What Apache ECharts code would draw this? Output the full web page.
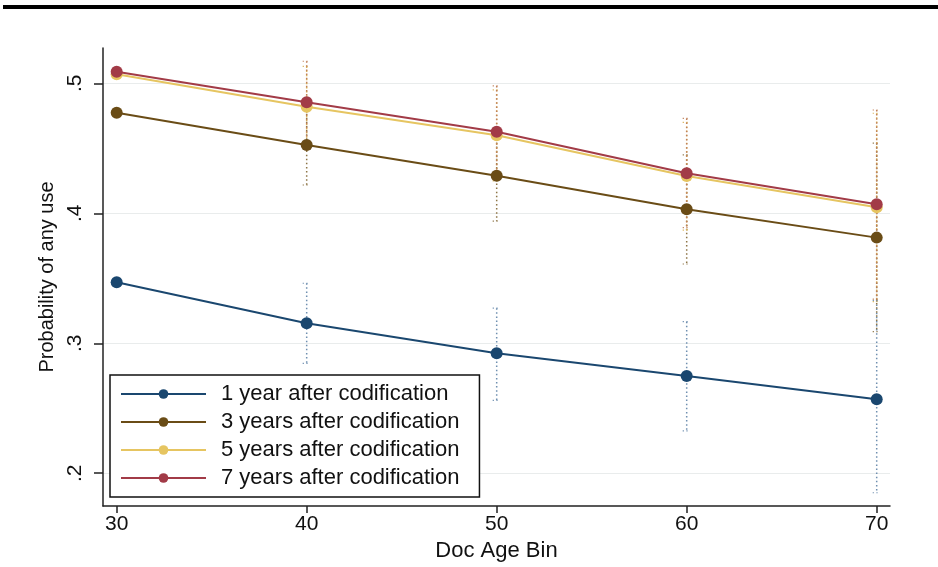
<!DOCTYPE html>
<html>
<head>
<meta charset="utf-8">
<style>
  html, body { margin: 0; padding: 0; background: #ffffff; }
  #chart { width: 938px; height: 567px; }
</style>
<script src="https://cdn.jsdelivr.net/npm/echarts@6/dist/echarts.min.js"></script>
</head>
<body>
<div id="chart"></div>
<script>
// Doc age bins on the x axis
const ageBins = [30, 40, 50, 60, 70];

// Predicted probability of any use, by years after codification
const year1 = [0.347, 0.3154, 0.2923, 0.2749, 0.2569];
const year3 = [0.4774, 0.4525, 0.4289, 0.4031, 0.3813];
const year5 = [0.507, 0.482, 0.460, 0.4287, 0.4046];
const year7 = [0.509, 0.4854, 0.4628, 0.4308, 0.4069];

// Confidence interval bounds (none at the base bin)
const year1Lo = [null, 0.2846, 0.256, 0.2326, 0.185];
const year1Hi = [null, 0.3462, 0.327, 0.3166, 0.333];
const year3Lo = [null, 0.4218, 0.394, 0.361, 0.309];
const year3Hi = [null, 0.483, 0.464, 0.445, 0.454];
const year5Lo = [null, 0.451, 0.425, 0.387, 0.332];
const year5Hi = [null, 0.513, 0.495, 0.470, 0.477];
const year7Lo = [null, 0.455, 0.428, 0.389, 0.334];
const year7Hi = [null, 0.517, 0.498, 0.473, 0.4795];

// Axis ticks
const xTicks = [30, 40, 50, 60, 70];
const yTicks = [0.2, 0.3, 0.4, 0.5];

const seriesNames = [
  '1 year after codification',
  '3 years after codification',
  '5 years after codification',
  '7 years after codification'
];

const FONT = "'Liberation Sans', Arial, Helvetica, sans-serif";
const colors = ['#1a476f', '#6a4c16', '#e6c561', '#a23b47'];
const ciColors = ['#6f8fb0', '#8d7446', '#d9b35a', '#c0805a'];

const values = [year1, year3, year5, year7];
const lows = [year1Lo, year3Lo, year5Lo, year7Lo];
const highs = [year1Hi, year3Hi, year5Hi, year7Hi];

function ciData(lo, hi) {
  const out = [];
  ageBins.forEach((x, i) => {
    if (lo[i] != null && hi[i] != null) out.push([x, lo[i], hi[i]]);
  });
  return out;
}

function ciRenderer(color) {
  return function (params, api) {
    const x = api.value(0);
    const top = api.coord([x, api.value(2)]);
    const bot = api.coord([x, api.value(1)]);
    const dotted = { stroke: color, lineWidth: 1.5, lineDash: [1.5, 2.6] };
    const cap = { stroke: color, lineWidth: 1.2, lineDash: [1.2, 2.5] };
    return {
      type: 'group',
      children: [
        { type: 'line', shape: { x1: top[0], y1: top[1], x2: bot[0], y2: bot[1] }, style: dotted },
        { type: 'line', shape: { x1: top[0] - 4, y1: top[1], x2: top[0] + 1, y2: top[1] }, style: cap },
        { type: 'line', shape: { x1: bot[0] - 4, y1: bot[1], x2: bot[0] + 1, y2: bot[1] }, style: cap }
      ]
    };
  };
}

const series = [];

// Confidence intervals drawn beneath the lines
values.forEach((v, k) => {
  series.push({
    name: 'ci' + k,
    type: 'custom',
    data: ciData(lows[k], highs[k]),
    encode: { x: 0, y: [1, 2] },
    renderItem: ciRenderer(ciColors[k]),
    silent: true,
    z: 1
  });
});

// Predicted lines with markers
values.forEach((v, k) => {
  const s = {
    name: seriesNames[k],
    type: 'line',
    data: ageBins.map((x, i) => [x, v[i]]),
    symbol: 'circle',
    symbolSize: 12,
    color: colors[k],
    lineStyle: { width: 2, color: colors[k] },
    itemStyle: { color: colors[k] },
    z: 5 + k,
    animation: false
  };
  if (k === 0) {
    // horizontal gridlines at the y ticks
    s.markLine = {
      silent: true,
      symbol: 'none',
      label: { show: false },
      lineStyle: { color: '#e9ecec', width: 1.2, type: 'solid' },
      data: yTicks.map(t => ({ yAxis: t })),
      z: 0
    };
  }
  series.push(s);
});

const chart = echarts.init(document.getElementById('chart'), null, { renderer: 'canvas' });

chart.setOption({
  animation: false,
  backgroundColor: '#ffffff',
  textStyle: { fontFamily: FONT },
  grid: { left: 103, right: 48, top: 48, bottom: 61, containLabel: false },
  graphic: [
    { type: 'rect', shape: { x: 3, y: 5, width: 935, height: 4 }, style: { fill: '#000000' }, z: 100 }
  ],
  xAxis: {
    type: 'value',
    min: 29.28,
    max: 70.7,
    name: 'Doc Age Bin',
    nameLocation: 'middle',
    nameGap: 33,
    nameTextStyle: { fontFamily: FONT, fontSize: 22, color: '#111' },
    axisLine: { show: true, onZero: false, lineStyle: { color: '#222', width: 1.5 } },
    axisTick: { show: true, customValues: xTicks, length: 7, lineStyle: { color: '#222', width: 1.5 } },
    axisLabel: { customValues: xTicks, fontFamily: FONT, fontSize: 21, color: '#111', margin: 8 },
    splitLine: { show: false }
  },
  yAxis: {
    type: 'value',
    min: 0.1748,
    max: 0.5272,
    name: 'Probability of any use',
    nameLocation: 'middle',
    nameRotate: 90,
    nameGap: 44,
    nameTextStyle: { fontFamily: FONT, fontSize: 20, color: '#111' },
    axisLine: { show: true, onZero: false, lineStyle: { color: '#222', width: 1.5 } },
    axisTick: { show: true, customValues: yTicks, length: 9, lineStyle: { color: '#222', width: 1.5 } },
    axisLabel: {
      customValues: yTicks,
      rotate: 90,
      fontFamily: FONT,
      fontSize: 21,
      color: '#111',
      margin: 17,
      formatter: v => String(Math.round(v * 10) / 10).replace(/^0/, '')
    },
    splitLine: { show: false }
  },
  legend: {
    data: seriesNames,
    orient: 'vertical',
    left: 110,
    top: 375,
    backgroundColor: '#ffffff',
    borderColor: '#111',
    borderWidth: 1.5,
    borderRadius: 0,
    padding: [8, 20, 8, 10],
    itemWidth: 85,
    itemHeight: 12,
    itemGap: 6,
    textStyle: { fontFamily: FONT, fontSize: 22, color: '#111', lineHeight: 22, padding: [0, 0, 0, 10] },
    z: 20
  },
  series: series
});
</script>
</body>
</html>
